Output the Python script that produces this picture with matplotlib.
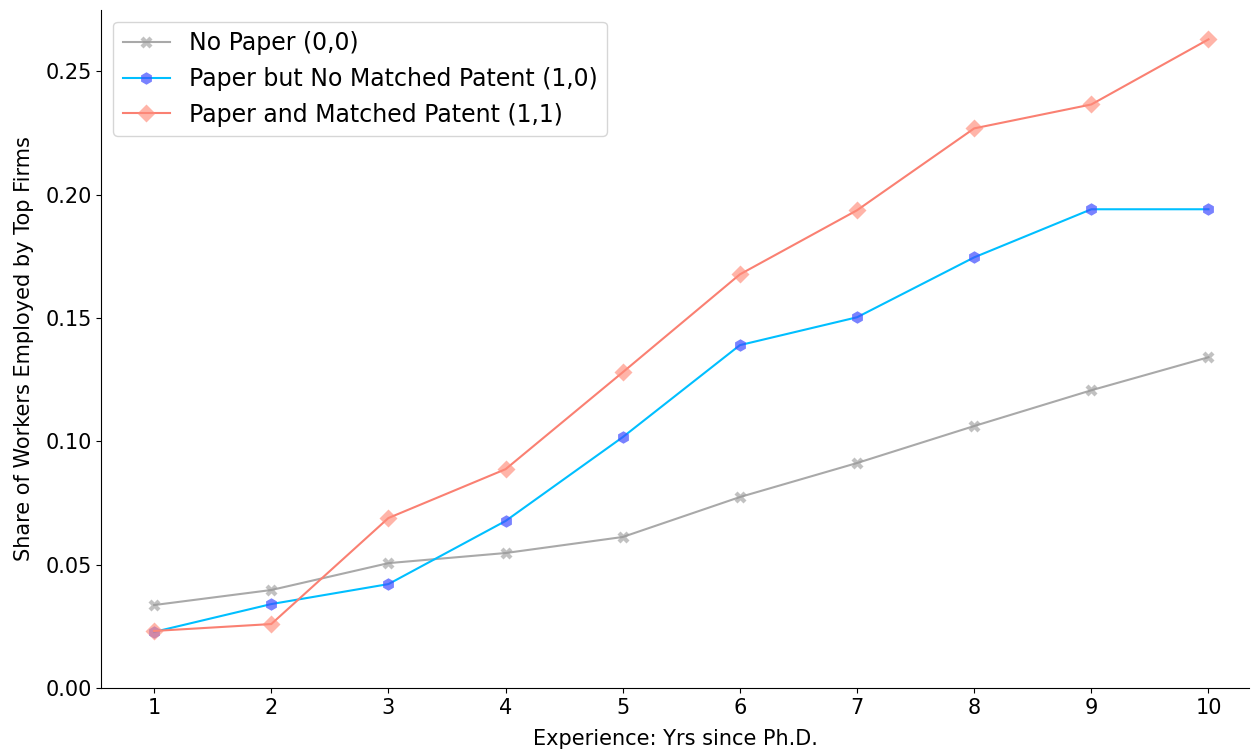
import matplotlib
matplotlib.use("Agg")
import matplotlib.pyplot as plt

years = [1, 2, 3, 4, 5, 6, 7, 8, 9, 10]
no_paper = [0.0336, 0.0397, 0.0506, 0.0547, 0.0612, 0.0774, 0.0912, 0.1062, 0.1207, 0.1341]
paper_no_patent = [0.0227, 0.0340, 0.0421, 0.0677, 0.1017, 0.1390, 0.1503, 0.1746, 0.1941, 0.1941]
paper_patent = [0.0231, 0.0259, 0.0689, 0.0887, 0.1280, 0.1677, 0.1937, 0.2269, 0.2366, 0.2630]

fig, ax = plt.subplots(figsize=(12.52, 7.51), dpi=100)
fig.subplots_adjust(left=0.081, right=0.998, top=0.987, bottom=0.084)

# lines with semi-transparent markers
ax.plot(years, no_paper, color="darkgray", lw=1.5, marker="X", ms=8,
        mfc=(0.6, 0.6, 0.6, 0.6), mec=(0.6, 0.6, 0.6, 0.0), label="No Paper (0,0)")
ax.plot(years, paper_no_patent, color="deepskyblue", lw=1.5, marker="h", ms=9,
        mfc=(0.25, 0.3, 1.0, 0.7), mec=(0.25, 0.3, 1.0, 0.0), label="Paper but No Matched Patent (1,0)")
ax.plot(years, paper_patent, color="salmon", lw=1.5, marker="D", ms=9,
        mfc=(1.0, 0.55, 0.48, 0.65), mec=(1.0, 0.55, 0.48, 0.0), label="Paper and Matched Patent (1,1)")

ax.set_xticks(years)
ax.set_ylim(0, 0.275)
ax.set_yticks([0.0, 0.05, 0.10, 0.15, 0.20, 0.25])
ax.set_yticklabels(["0.00", "0.05", "0.10", "0.15", "0.20", "0.25"])
ax.set_xlim(0.55, 10.35)
ax.tick_params(labelsize=15)
ax.spines["top"].set_visible(False)
ax.spines["right"].set_visible(False)
ax.set_xlabel("Experience: Yrs since Ph.D.", fontsize=15, labelpad=8)
ax.set_ylabel("Share of Workers Employed by Top Firms", fontsize=15, labelpad=8)
ax.legend(loc="upper left", fontsize=17)

fig.savefig("out.png")
